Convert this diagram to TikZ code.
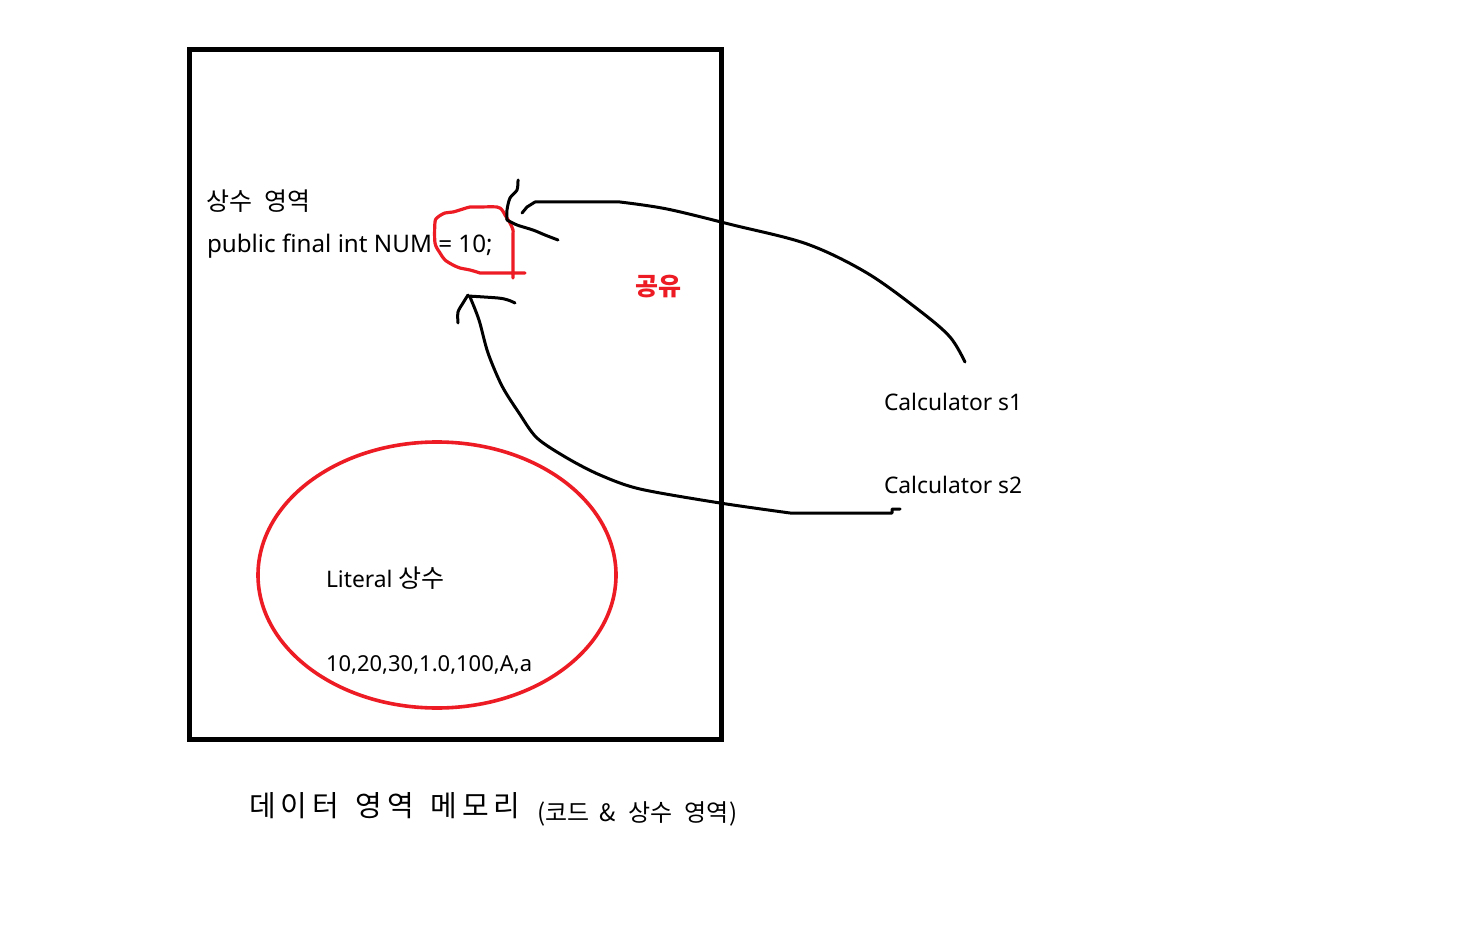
\documentclass[tikz,border=0pt]{standalone}
\usepackage{fontspec}
\setmainfont{Noto Sans}
\newfontfamily\kr{Noto Sans CJK KR}
\usetikzlibrary{shapes.geometric}
\definecolor{pred}{HTML}{ED1C24}
\begin{document}
\begin{tikzpicture}[x=1pt,y=-1pt,
  pen/.style={line width=3pt, line join=round, line cap=round},
  redpen/.style={pen, draw=pred, line width=3.2pt},
  lbl/.style={anchor=base west, inner sep=0pt, outer sep=0pt, font=\fontsize{22.8}{26}\selectfont},
]
\useasboundingbox[fill=white] (0,0) rectangle (1480,928);

% memory box
\node[draw, line width=5pt, minimum width=532pt, minimum height=689pt,
      inner sep=0pt, outer sep=0pt, anchor=north west] (mem) at (189,50) {};

% literal ellipse
\node[ellipse, draw=pred, line width=3.6pt, minimum width=358pt, minimum height=266pt,
      inner sep=0pt] (lit) at (437,575) {};

% texts
\node[lbl, font=\kr\fontsize{25}{28}\selectfont] (sangsu) at (206,211) {상수\hspace{7pt} 영역};
\node[lbl, font=\fontsize{24.2}{28}\selectfont] (decl) at (207,252) {public final int NUM = 10;};
\node[lbl, text=pred, font=\kr\bfseries\fontsize{25}{28}\selectfont] (share) at (635,295) {공유};
\node[lbl] (c1) at (884,410) {Calculator s1};
\node[lbl] (c2) at (884,493) {Calculator s2};
\node[lbl] (littext) at (326,587) {Literal {\kr\fontsize{25}{28}\selectfont 상수}};
\node[lbl, font=\fontsize{22}{26}\selectfont] (litvals) at (326,671) {10,20,30,1.0,100,A,a};
\node[lbl, font=\kr\fontsize{29}{32}\selectfont] (title) at (249,816)
  {데\hspace{5pt}이\hspace{5pt}터\hspace{10pt} 영\hspace{5pt}역\hspace{10pt} 메\hspace{5pt}모\hspace{5pt}리};
\node[lbl, font=\kr\fontsize{24}{28}\selectfont] (sub) at (537,821)
  {(코드\hspace{5pt} \&\hspace{7pt} 상수\hspace{7pt} 영역)};

% red loop around "= 10;"
\draw[redpen] plot[smooth, tension=0.5] coordinates {(513,278) (513,237) (513,230) (510,223) (505,215) (502,210) (497,207) (478,207) (470,207) (463,209) (453,212) (445,213) (438,217) (435,222) (435,243) (440,253) (445,260) (453,265) (460,268) (470,270) (480,273)} -- (525,273);

% connector s1
\coordinate (s1tail) at (965,362);
\coordinate (s1tip) at (522,213);
\draw[pen] plot[smooth, tension=0.55] coordinates {(s1tail) (950,337) (920,311) (867,273) (807,244) (733,225) (667,209) (620,202)} -- (535,202) -- (527,207) -- (s1tip);
\draw[pen] plot[smooth, tension=0.5] coordinates {(518,180) (517,190) (510,198) (507,210) (507,220)};
\draw[pen] plot[smooth, tension=0.5] coordinates {(507,220) (517,225) (533,230) (545,235) (558,240)};

% connector s2
\coordinate (s2tail) at (900,509);
\coordinate (s2tip) at (470,297);
\draw[pen] (s2tail) -- (892,509) -- (892,513) -- (790,513)
  plot[smooth, tension=0.5] coordinates {(790,513) (720,503) (640,489) (600,475) (567,458) (537,438) (519,413) (502,386) (488,353) (479,320) (s2tip)};
\draw[pen] plot[smooth, tension=0.5] coordinates {(468,296) (498,298) (508,300) (515,303)};
\draw[pen] plot[smooth, tension=0.5] coordinates {(468,295) (463,303) (458,312) (458,323)};
\end{tikzpicture}
\end{document}
